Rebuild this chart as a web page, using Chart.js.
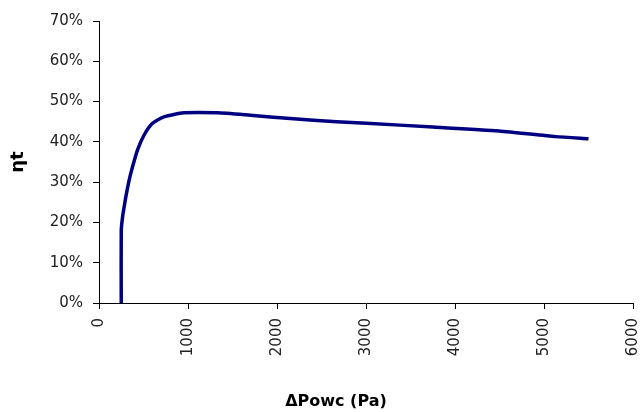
<!DOCTYPE html>
<html>
<head>
<meta charset="utf-8">
<script src="https://cdn.jsdelivr.net/npm/chart.js@4/dist/chart.umd.min.js"></script>
<style>
  html, body { margin: 0; padding: 0; background: #fff; }
  #wrap { width: 642px; height: 412px; }
</style>
</head>
<body>
<div id="wrap"><canvas id="c" width="642" height="412"></canvas></div>
<script>
// Pressure difference ΔPowc (Pa)
const pressurePa = [250, 250, 265, 283, 302, 339, 377, 433, 507, 601, 730, 954, 1328, 1700, 2148, 2670, 3006, 3751, 4497, 5131, 5500];
// Efficiency ηt (%)
const efficiencyPct = [0, 18, 21.4, 23.9, 26.4, 30.5, 33.8, 38.0, 41.7, 44.6, 46.2, 47.2, 47.2, 46.6, 45.8, 45.0, 44.6, 43.7, 42.7, 41.3, 40.8];
const xTicks = [0, 1000, 2000, 3000, 4000, 5000, 6000];
const yTicks = [0, 10, 20, 30, 40, 50, 60, 70];
const xTitle = 'ΔPowc (Pa)';
const yTitle = 'ηt';

const points = pressurePa.map((x, i) => ({ x: x, y: efficiencyPct[i] }));

new Chart(document.getElementById('c'), {
  type: 'scatter',
  data: {
    datasets: [{
      data: points,
      showLine: true,
      borderColor: '#000080',
      backgroundColor: '#000080',
      borderWidth: 3.5,
      pointRadius: 0,
      tension: 0.2
    }]
  },
  options: {
    responsive: false,
    animation: false,
    devicePixelRatio: 1,
    layout: { padding: { top: 21, right: 9, bottom: 0, left: 39 } },
    plugins: {
      legend: { display: false },
      tooltip: { enabled: false },
      title: {
        display: true, position: 'bottom', text: xTitle, color: '#000',
        font: { family: 'DejaVu Sans', size: 16, weight: 'bold' },
        padding: { top: 6, bottom: 1 }
      }
    },
    scales: {
      x: {
        type: 'linear',
        min: 0, max: 6000,
        afterBuildTicks: s => { s.ticks = xTicks.map(v => ({ value: v })); },
        afterFit: s => { s.height = 82.8; s.paddingRight = 0; s.paddingLeft = 0; },
        border: { color: '#000', width: 1 },
        grid: { drawOnChartArea: false, drawTicks: true, tickLength: 6, color: '#000' },
        ticks: {
          minRotation: 90, maxRotation: 90, autoSkip: false, padding: 9,
          color: '#222',
          font: { family: 'DejaVu Sans', size: 15 },
          callback: v => String(v)
        },
        title: { display: false }
      },
      y: {
        type: 'linear',
        min: 0, max: 70,
        afterBuildTicks: s => { s.ticks = yTicks.map(v => ({ value: v })); },
        afterFit: s => { s.width = 60; },
        border: { color: '#000', width: 1 },
        grid: { drawOnChartArea: false, drawTicks: true, tickLength: 6, color: '#000' },
        ticks: {
          padding: 10, color: '#222',
          font: { family: 'DejaVu Sans', size: 15 },
          callback: v => v + '%'
        },
        title: {
          display: true, text: yTitle, color: '#000',
          font: { family: 'DejaVu Sans', size: 18, weight: 'bold' },
          padding: { top: -31, bottom: 0 }
        }
      }
    }
  }
});
</script>
</body>
</html>
